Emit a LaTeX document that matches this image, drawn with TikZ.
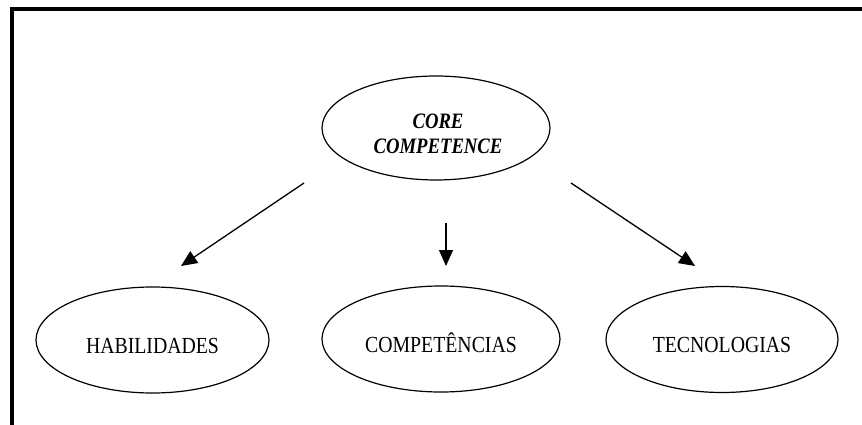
\documentclass[tikz,border=0pt]{standalone}
\usepackage{fontspec}
\setmainfont{Liberation Serif}
\usetikzlibrary{shapes.geometric,arrows.meta}

\tikzset{
  oval/.style={ellipse, draw, line width=1.2pt, inner sep=0pt,
               minimum width=#1, minimum height=106pt},
  oval/.default=232pt,
  lbl/.style={font=\fontsize{23}{25}\selectfont, text height=26pt, text depth=0pt},
  corelbl/.style={font=\fontsize{22}{25}\selectfont\bfseries\itshape, align=center, inner sep=0pt},
  link/.style={line width=1.3pt, -{Triangle[length=16pt,width=14pt]}},
  frame/.style={line width=4pt, line join=miter}
}
\newcommand{\squeeze}[1]{\scalebox{0.86}[1]{#1}}

\begin{document}
\begin{tikzpicture}[x=1pt,y=-1pt]
  \useasboundingbox (0,0) rectangle (862,425);

  % open frame: left and top rules
  \draw[frame] (12,425) -- (12,9) -- (862,9);

  % central concept
  \node[oval=228pt, minimum height=104pt] (core) at (436,128) {};
  \node[corelbl] (coretext) at (438,134) {\scalebox{0.85}[1]{CORE}\\[0pt]\scalebox{0.85}[1]{COMPETENCE}};

  % three components
  \node[oval=233pt, lbl] (hab)  at (152.5,340) {\squeeze{HABILIDADES}};
  \node[oval=238pt, lbl] (comp) at (441,339)   {\squeeze{COMPETÊNCIAS}};
  \node[oval=232pt, lbl] (tec)  at (722,339.5) {\squeeze{TECNOLOGIAS}};

  % arrow ends in the gap between the rows
  \coordinate (l1) at (304,183);  \coordinate (l2) at (181,266);
  \coordinate (m1) at (446,223);  \coordinate (m2) at (446,266);
  \coordinate (r1) at (571,183);  \coordinate (r2) at (695,266);

  \draw[link] (l1) -- (l2);
  \draw[link] (m1) -- (m2);
  \draw[link] (r1) -- (r2);
\end{tikzpicture}
\end{document}
